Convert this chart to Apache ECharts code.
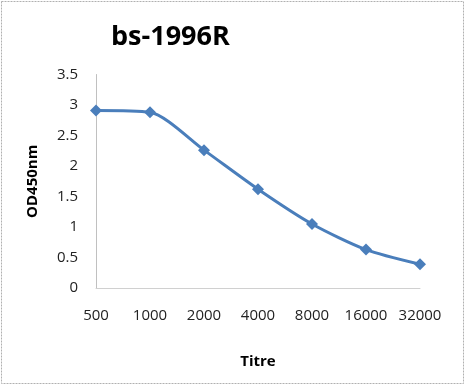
<!DOCTYPE html>
<html><head><meta charset="utf-8">
<script src="https://cdn.jsdelivr.net/npm/echarts@6/dist/echarts.min.js"></script>
<style>html,body{margin:0;padding:0;background:#fff}#c{width:466px;height:386px}</style>
</head><body><div id="c"></div>
<script>
const categories = ['500','1000','2000','4000','8000','16000','32000'];
const odValues = [2.91, 2.88, 2.26, 1.62, 1.05, 0.63, 0.39];
const yTicks = [0, 0.5, 1, 1.5, 2, 2.5, 3, 3.5];

const chart = echarts.init(document.getElementById('c'), null, {renderer:'canvas'});
const font = '"Open Sans", "Liberation Sans", sans-serif';
chart.setOption({
  animation: false,
  backgroundColor: '#fff',
  title: {
    text: 'bs-1996R', left: 106, top: 19,
    textStyle: {fontFamily: font, fontSize: 27, fontWeight: 'bold', color: '#000'}
  },
  graphic: [{
    type: 'rect', shape: {x: 1.5, y: 1.5, width: 462, height: 382},
    style: {fill: 'none', stroke: '#b0b0b0', lineWidth: 1, lineDash: [2, 1]}
  }],
  grid: {left: 96, right: 46, top: 74.5, bottom: 98},
  xAxis: {
    type: 'category', data: categories, boundaryGap: false,
    name: 'Titre', nameLocation: 'middle', nameGap: 66,
    nameTextStyle: {fontFamily: font, fontSize: 15, fontWeight: 'bold', color: '#000'},
    axisLine: {lineStyle: {color: '#d0d0d0'}},
    axisTick: {show: false},
    axisLabel: {fontFamily: font, fontSize: 15, color: '#222', margin: 20, interval: 0, hideOverlap: false}
  },
  yAxis: {
    type: 'value', min: yTicks[0], max: yTicks[yTicks.length-1], interval: 0.5,
    name: 'OD450nm', nameLocation: 'middle', nameGap: 56, nameRotate: 90,
    nameTextStyle: {fontFamily: font, fontSize: 15, fontWeight: 'bold', color: '#000'},
    axisLine: {show: true, lineStyle: {color: '#c0c0c0'}},
    axisTick: {show: false},
    splitLine: {show: false},
    axisLabel: {fontFamily: font, fontSize: 15, color: '#222', margin: 18}
  },
  series: [{
    type: 'line', data: odValues, smooth: 0.25,
    symbol: 'diamond', symbolSize: 12,
    lineStyle: {color: '#4a7ebb', width: 3},
    itemStyle: {color: '#4a7ebb'}
  }]
});
</script></body></html>
